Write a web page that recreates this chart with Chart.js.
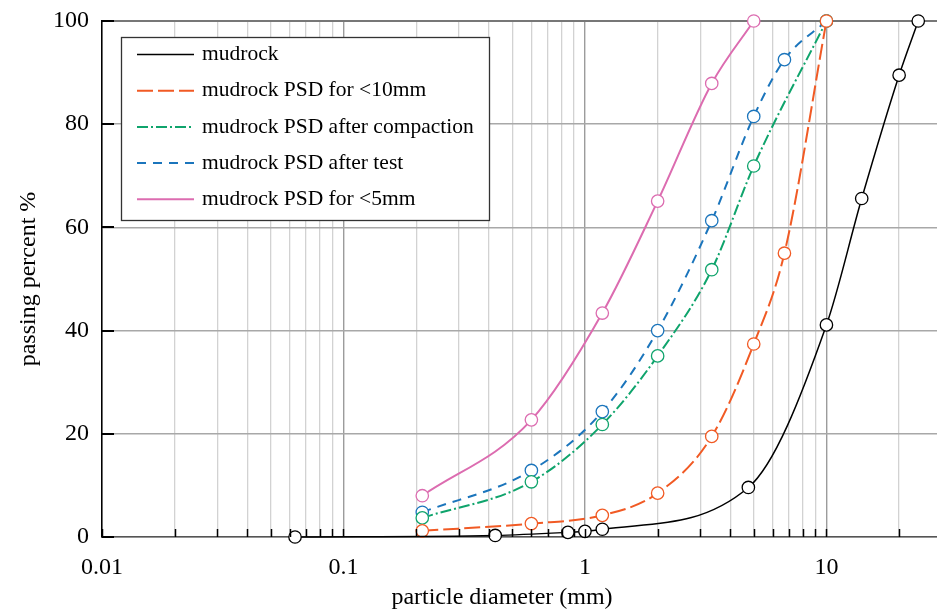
<!DOCTYPE html>
<html>
<head>
<meta charset="utf-8">
<script src="https://cdn.jsdelivr.net/npm/chart.js@4/dist/chart.umd.min.js"></script>
<style>
  html, body { margin: 0; padding: 0; background: #fff; overflow: hidden; }
  #wrap { width: 937px; height: 610px; }
</style>
</head>
<body>
<div id="wrap"><canvas id="c" width="937" height="610"></canvas></div>
<script>
// Sieve sizes (mm) and percent passing for each grading curve
const mudrockSize    = [0.063, 0.425, 0.85, 1.0, 1.18, 4.75, 10, 14, 20, 24];
const mudrockPass    = [0, 0.3, 0.9, 1.1, 1.5, 9.6, 41.1, 65.6, 89.5, 100];

const lt10Size       = [0.212, 0.6, 1.18, 2.0, 3.35, 5.0, 6.7, 10];
const lt10Pass       = [1.2, 2.6, 4.2, 8.5, 19.5, 37.4, 55.0, 100];

const compactSize    = [0.212, 0.6, 1.18, 2.0, 3.35, 5.0, 10];
const compactPass    = [3.7, 10.7, 21.8, 35.1, 51.8, 71.9, 100];

const afterTestSize  = [0.212, 0.6, 1.18, 2.0, 3.35, 5.0, 6.7, 10];
const afterTestPass  = [4.8, 12.9, 24.3, 40.0, 61.3, 81.5, 92.5, 100];

const lt5Size        = [0.212, 0.6, 1.18, 2.0, 3.35, 5.0];
const lt5Pass        = [8.0, 22.7, 43.4, 65.1, 87.9, 100];

const seriesNames = [
  'mudrock',
  'mudrock PSD for <10mm',
  'mudrock PSD after compaction',
  'mudrock PSD after test',
  'mudrock PSD for <5mm'
];

// Axis settings
const xMin = 0.01, xMax = 28.7;
const decades = [0.01, 0.1, 1, 10];
const xLabelValues = [0.01, 0.1, 1, 10];
const yTicks = [0, 20, 40, 60, 80, 100];

const SERIF = "'Liberation Serif', 'Times New Roman', serif";

function pts(xs, ys) { return xs.map((x, i) => ({ x: x, y: ys[i] })); }

function series(label, xs, ys, color, dash, width) {
  return {
    label: label,
    data: pts(xs, ys),
    borderColor: color,
    borderWidth: width,
    borderDash: dash,
    pointRadius: 6.2,
    pointHoverRadius: 6.2,
    pointBorderWidth: 1.3,
    pointBorderColor: color,
    pointBackgroundColor: '#ffffff',
    cubicInterpolationMode: 'monotone',
    fill: false,
    clip: 10
  };
}

const datasets = [
  series(seriesNames[0], mudrockSize, mudrockPass, '#000000', [], 1.5),
  series(seriesNames[1], lt10Size, lt10Pass, '#F15A24', [16, 5], 2),
  series(seriesNames[2], compactSize, compactPass, '#0FA46C', [11, 3, 2, 3], 2),
  series(seriesNames[3], afterTestSize, afterTestPass, '#1B75BC', [9, 7], 2),
  series(seriesNames[4], lt5Size, lt5Pass, '#DC6CB0', [], 2)
];

// Log-scale tick positions: 1..9 within each decade
function logTickValues() {
  const out = [];
  decades.forEach(d => {
    for (let m = 1; m <= 9; m++) {
      const v = Number((m * d).toPrecision(3));
      if (v >= xMin && v <= xMax) out.push(v);
    }
  });
  return out;
}
const isMajor = v => xLabelValues.some(m => Math.abs(v - m) < 1e-9);

// Inward tick marks, framed legend and axis titles
const decorations = {
  id: 'decorations',
  afterDraw(chart) {
    const ctx = chart.ctx;
    const xs = chart.scales.x, ys = chart.scales.y;
    const area = chart.chartArea;
    ctx.save();
    ctx.strokeStyle = '#000';
    // left axis ticks
    ctx.lineWidth = 2;
    yTicks.forEach(v => {
      const py = Math.round(ys.getPixelForValue(v));
      ctx.beginPath();
      ctx.moveTo(area.left, py);
      ctx.lineTo(area.left + 12, py);
      ctx.stroke();
    });
    // bottom axis ticks
    ctx.lineWidth = 1.5;
    logTickValues().forEach(v => {
      const px = Math.round(xs.getPixelForValue(v)) + 0.5;
      ctx.beginPath();
      ctx.moveTo(px, area.bottom);
      ctx.lineTo(px, area.bottom - 8);
      ctx.stroke();
    });

    // legend box
    const bx = 121.5, by = 37.5, bw = 368, bh = 183;
    ctx.fillStyle = '#fff';
    ctx.fillRect(bx, by, bw, bh);
    ctx.strokeStyle = '#333';
    ctx.lineWidth = 1.3;
    ctx.strokeRect(bx, by, bw, bh);
    ctx.font = '21.5px ' + SERIF;
    ctx.textBaseline = 'middle';
    ctx.textAlign = 'left';
    chart.data.datasets.forEach((ds, i) => {
      const ly = 54.5 + i * 36.2;
      ctx.strokeStyle = ds.borderColor;
      ctx.lineWidth = ds.borderWidth;
      ctx.setLineDash(ds.borderDash);
      ctx.beginPath();
      ctx.moveTo(137, ly);
      ctx.lineTo(194, ly);
      ctx.stroke();
      ctx.setLineDash([]);
      ctx.fillStyle = '#000';
      ctx.fillText(ds.label, 202, ly);
    });

    // axis titles
    ctx.fillStyle = '#000';
    ctx.font = '24px ' + SERIF;
    ctx.textAlign = 'center';
    ctx.textBaseline = 'middle';
    ctx.fillText('particle diameter (mm)', 502, 598);
    ctx.translate(29, 279);
    ctx.rotate(-Math.PI / 2);
    ctx.fillText('passing percent %', 0, 0);
    ctx.restore();
  }
};

new Chart(document.getElementById('c'), {
  type: 'line',
  data: { datasets: datasets },
  options: {
    responsive: false,
    animation: false,
    events: [],
    layout: { autoPadding: false, padding: { top: 21, right: 0, left: 0, bottom: 0 } },
    plugins: { legend: { display: false }, tooltip: { enabled: false } },
    scales: {
      x: {
        type: 'logarithmic',
        min: xMin,
        max: xMax,
        afterBuildTicks: s => { s.ticks = logTickValues().map(v => ({ value: v, major: isMajor(v) })); },
        afterFit: s => { s.height = 73; s.paddingLeft = 0; s.paddingRight = 0; },
        grid: {
          drawTicks: false,
          color: c => (c.tick && isMajor(c.tick.value)) ? '#9c9c9c' : '#d2d2d2',
          lineWidth: c => (c.tick && isMajor(c.tick.value)) ? 1.4 : 1.3
        },
        border: { color: '#555', width: 1.5 },
        ticks: {
          autoSkip: false,
          maxRotation: 0,
          padding: 16,
          color: '#000',
          font: { family: SERIF, size: 24 },
          callback: v => isMajor(v) ? String(v) : ''
        }
      },
      y: {
        min: 0,
        max: 100,
        afterBuildTicks: s => { s.ticks = yTicks.map(v => ({ value: v })); },
        afterFit: s => { s.width = 102; s.paddingTop = 0; s.paddingBottom = 0; },
        grid: {
          drawTicks: false,
          color: c => (c.tick && c.tick.value === 100) ? '#777' : '#a8a8a8',
          lineWidth: c => (c.tick && c.tick.value === 100) ? 2 : 1.4
        },
        border: { color: '#000', width: 1.5 },
        ticks: {
          padding: 13,
          color: '#000',
          font: { family: SERIF, size: 24 }
        }
      }
    }
  },
  plugins: [decorations]
});
</script>
</body>
</html>
